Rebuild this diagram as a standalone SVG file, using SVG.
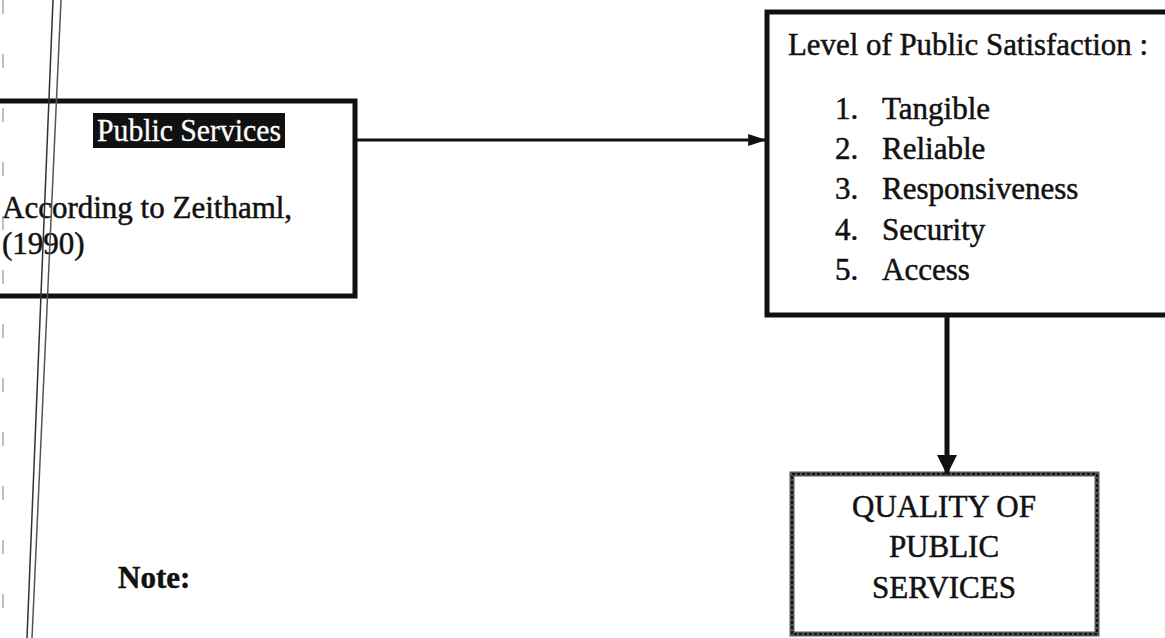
<svg xmlns="http://www.w3.org/2000/svg" width="1165" height="638" viewBox="0 0 1165 638">
<style>
.t{font-family:"Liberation Serif","Times New Roman",serif;font-size:31px;fill:#111;stroke:#111;stroke-width:0.5}
.box{fill:#fff;stroke:#111;stroke-width:5}
.conn{stroke:#111;fill:none}
</style>
<defs>
<marker id="ah" markerWidth="6" markerHeight="4" refX="5.6" refY="2" orient="auto" markerUnits="strokeWidth">
<path d="M0,0 L6,2 L0,4 z" fill="#111"/>
</marker>
<marker id="ah2" markerWidth="4" markerHeight="4" refX="3.8" refY="2" orient="auto" markerUnits="strokeWidth">
<path d="M0,0 L4,2 L0,4 z" fill="#111"/>
</marker>
</defs>
<rect width="1165" height="638" fill="#fff"/>
<g id="public-services">
<rect class="box" x="-10" y="101" width="365" height="195"/>
<rect x="93" y="113" width="192" height="35" fill="#111"/>
<text class="t" x="189" y="141" text-anchor="middle" style="fill:#fff;stroke:#fff;stroke-width:0.3" textLength="184" lengthAdjust="spacingAndGlyphs">Public Services</text>
<text class="t" x="2" y="218">According to Zeithaml,</text>
<text class="t" x="2" y="254">(1990)</text>
</g>
<g id="satisfaction">
<rect class="box" x="767" y="12" width="410" height="303"/>
<text class="t" x="788" y="55" textLength="360" lengthAdjust="spacingAndGlyphs">Level of Public Satisfaction :</text>
<text class="t" x="835" y="119">1.</text><text class="t" x="882" y="119">Tangible</text>
<text class="t" x="835" y="159">2.</text><text class="t" x="882" y="159">Reliable</text>
<text class="t" x="835" y="199">3.</text><text class="t" x="882" y="199">Responsiveness</text>
<text class="t" x="835" y="240">4.</text><text class="t" x="882" y="240">Security</text>
<text class="t" x="835" y="280">5.</text><text class="t" x="882" y="280">Access</text>
</g>
<g id="quality">
<rect x="792" y="474" width="305" height="160" fill="#fff" stroke="#555" stroke-width="5"/>
<rect x="792" y="474" width="305" height="160" fill="none" stroke="#111" stroke-width="2" stroke-dasharray="3 2"/>
<text class="t" x="944" y="517" text-anchor="middle">QUALITY OF</text>
<text class="t" x="944" y="557" text-anchor="middle">PUBLIC</text>
<text class="t" x="944" y="598" text-anchor="middle">SERVICES</text>
</g>
<g id="note">
<text class="t" x="118" y="588" font-weight="bold">Note:</text>
</g>
<g id="connectors">
<line class="conn" x1="357" y1="140" x2="765" y2="140" stroke-width="3" marker-end="url(#ah)"/>
<line class="conn" x1="947" y1="317" x2="947" y2="474" stroke-width="5" marker-end="url(#ah2)"/>
</g>
<g id="scan-marks" fill="none">
<line x1="53" y1="0" x2="27" y2="638" stroke="#333" stroke-width="1.5"/>
<line x1="61" y1="0" x2="32" y2="638" stroke="#555" stroke-width="1.5"/>
<line x1="3" y1="0" x2="3" y2="638" stroke="#aaa" stroke-width="1.5" stroke-dasharray="14 40"/>
</g>
</svg>
